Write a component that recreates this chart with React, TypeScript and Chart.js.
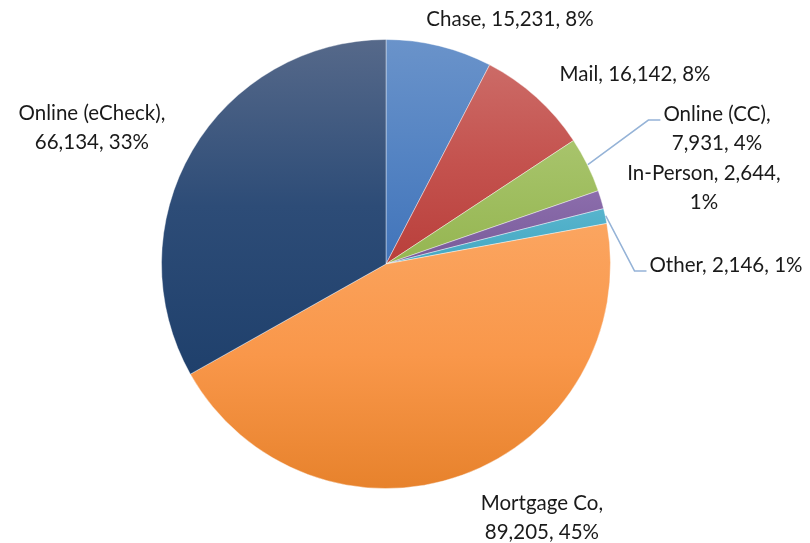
import React, { useEffect, useRef } from "react";
import { Chart, registerables } from "chart.js";

Chart.register(...registerables);

const categories = ["Chase", "Mail", "Online (CC)", "In-Person", "Other", "Mortgage Co", "Online (eCheck)"];
const values = [15231, 16142, 7931, 2644, 2146, 89205, 66134];
const percentLabels = ["8%", "8%", "4%", "1%", "1%", "45%", "33%"];

// gradient stops (top -> bottom) per slice
const gradTop = ["#6a93ca", "#cc6b67", "#a8c46c", "#8c6dac", "#58b4cd", "#fba560", "#56698a"];
const gradMid = ["#5584c3", "#c4524e", "#9ebd5e", "#8264a3", "#4daec8", "#f9974a", "#2d4c77"];
const gradBot = ["#4174ba", "#b93f3b", "#95b551", "#785a98", "#44a8c2", "#e7822c", "#1f406c"];

// label layout: text lines, center offset relative to pie (in radii), leader flag
const labelLines = [
  ["Chase, 15,231, 8%"],
  ["Mail, 16,142, 8%"],
  ["Online (CC),", "7,931, 4%"],
  ["In-Person, 2,644,", "1%"],
  ["Other, 2,146, 1%"],
  ["Mortgage Co,", "89,205, 45%"],
  ["Online (eCheck),", "66,134, 33%"],
];
const labelDx = [0.551, 1.107, 1.471, 1.413, 1.511, 0.693, -1.307];
const labelDy = [-1.089, -0.844, -0.602, -0.338, 0.004, 1.129, -0.607];
const hasLeader = [false, false, true, false, true, false, false];

const FONT = "20.5px Lato";
const LINE_H = 29;

function geometry(chart: any) {
  const a = chart.chartArea;
  const cx = (a.left + a.right) / 2;
  const cy = (a.top + a.bottom) / 2;
  const r = Math.min(a.right - a.left, a.bottom - a.top) / 2;
  return { cx, cy, r };
}

function sliceAngles(i: number) {
  const total = values.reduce((s, v) => s + v, 0);
  let before = 0;
  for (let k = 0; k < i; k++) before += values[k];
  const s = -Math.PI / 2 + (before / total) * Math.PI * 2;
  const e = -Math.PI / 2 + ((before + values[i]) / total) * Math.PI * 2;
  return { s, e };
}

const labelPlugin = {
  id: "pieLabels",
  afterDraw(chart: any) {
    const ctx = chart.ctx;
    const { cx, cy, r } = geometry(chart);
    ctx.save();
    ctx.font = FONT;
    ctx.fillStyle = "#1a1a1a";
    ctx.textAlign = "center";
    ctx.textBaseline = "middle";
    for (let i = 0; i < values.length; i++) {
      const lines = labelLines[i];
      const lx = cx + labelDx[i] * r;
      const ly = cy + labelDy[i] * r;
      const top = ly - ((lines.length - 1) * LINE_H) / 2;
      let maxW = 0;
      lines.forEach((t, j) => {
        ctx.fillText(t, lx, top + j * LINE_H);
        maxW = Math.max(maxW, ctx.measureText(t).width);
      });
      if (hasLeader[i]) {
        const { s, e } = sliceAngles(i);
        const m = (s + e) / 2;
        const px = cx + Math.cos(m) * r;
        const py = cy + Math.sin(m) * r;
        const endX = lx - maxW / 2 - 3;
        const endY = top + 6;
        ctx.beginPath();
        ctx.strokeStyle = "#95b3d7";
        ctx.lineWidth = 1.5;
        ctx.moveTo(px, py);
        ctx.lineTo(endX - 12, endY);
        ctx.lineTo(endX, endY);
        ctx.stroke();
      }
    }
    ctx.restore();
  },
};

export default function App() {
  const ref = useRef<HTMLCanvasElement>(null);
  useEffect(() => {
    if (!ref.current) return;
    const chart = new Chart(ref.current, {
      type: "pie",
      data: {
        labels: categories,
        datasets: [
          {
            data: values,
            backgroundColor: (c: any) => {
              const ch = c.chart;
              if (!ch.chartArea) return gradMid[c.dataIndex];
              const i = c.dataIndex;
              const { cx, cy, r } = geometry(ch);
              const { s, e } = sliceAngles(i);
              let minY = cy, maxY = cy;
              const pts = [s, e];
              const extra = [-Math.PI / 2, Math.PI / 2, (3 * Math.PI) / 2];
              extra.forEach((a) => { if (a > s && a < e) pts.push(a); });
              pts.forEach((a) => {
                const y = cy + Math.sin(a) * r;
                minY = Math.min(minY, y);
                maxY = Math.max(maxY, y);
              });
              const g = ch.ctx.createLinearGradient(0, minY, 0, maxY);
              g.addColorStop(0, gradTop[i]);
              g.addColorStop(0.5, gradMid[i]);
              g.addColorStop(1, gradBot[i]);
              return g;
            },
            borderColor: "rgba(255,255,255,0.4)",
            borderWidth: 1,
          },
        ],
      },
      options: {
        responsive: false,
        animation: false,
        layout: { padding: { left: 161, right: 199, top: 39, bottom: 54 } },
        plugins: {
          legend: { display: false },
          tooltip: { enabled: false },
          title: { display: false },
        },
      },
      plugins: [labelPlugin],
    });
    return () => chart.destroy();
  }, []);
  return (
    <div style={{ position: "fixed", left: 0, top: 0, width: 810, height: 543, background: "#fff" }}>
      <canvas ref={ref} width={810} height={543} />
    </div>
  );
}
